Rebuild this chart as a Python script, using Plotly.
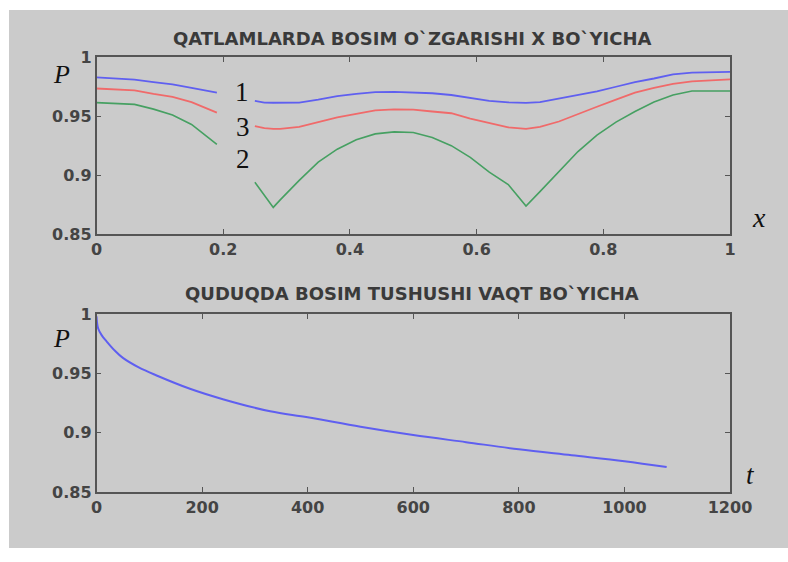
import plotly.graph_objects as go

W, H = 788, 562

# ---------- data: top chart (pressure along x) ----------
x_top = [0, 0.03, 0.06, 0.09, 0.12, 0.15, 0.19, 0.22, 0.25, 0.265, 0.279, 0.29, 0.32, 0.35,
         0.38, 0.41, 0.44, 0.47, 0.50, 0.53, 0.56, 0.59, 0.62, 0.65, 0.678, 0.70, 0.73,
         0.76, 0.79, 0.82, 0.85, 0.88, 0.91, 0.94, 0.97, 1.0]
p_curve1 = [0.983, 0.982, 0.981, 0.979, 0.977, 0.974, 0.970, None, 0.963, 0.9616, 0.9614,
            0.9614, 0.9616, 0.964, 0.967, 0.969, 0.9705, 0.9706, 0.9703, 0.9695, 0.968,
            0.9655, 0.963, 0.9618, 0.9613, 0.962, 0.965, 0.968, 0.971, 0.975, 0.979,
            0.982, 0.9855, 0.987, 0.9876, 0.9877]
p_curve3 = [0.9735, 0.973, 0.972, 0.969, 0.9664, 0.962, 0.953, None, 0.9415, 0.9398, 0.9393,
            0.9393, 0.941, 0.945, 0.949, 0.952, 0.955, 0.9558, 0.9556, 0.954, 0.9525,
            0.948, 0.944, 0.9405, 0.9393, 0.941, 0.9455, 0.952, 0.958, 0.964, 0.970,
            0.974, 0.9775, 0.9795, 0.9807, 0.9813]
p_curve2 = [0.9615, 0.961, 0.960, 0.956, 0.951, 0.943, 0.926, None, 0.894, 0.883, 0.8726,
            0.879, 0.8955, 0.911, 0.922, 0.930, 0.935, 0.9367, 0.9362, 0.932, 0.925,
            0.915, 0.9025, 0.892, 0.8737, 0.886, 0.903, 0.920, 0.934, 0.945, 0.954,
            0.962, 0.968, 0.9714, 0.9714, 0.9714]

# ---------- data: bottom chart (pressure over time) ----------
t_vals = [0, 3, 10, 19, 35, 50, 80, 115, 177, 241, 329, 400, 500, 600, 700, 800, 900, 1000, 1080]
p_time = [0.998, 0.988, 0.982, 0.977, 0.969, 0.963, 0.955, 0.948, 0.937, 0.928, 0.918,
          0.913, 0.905, 0.898, 0.892, 0.886, 0.881, 0.876, 0.871]

top_xticks = [0, 0.2, 0.4, 0.6, 0.8, 1]
top_xlabels = ["0", "0.2", "0.4", "0.6", "0.8", "1"]
yticks = [0.85, 0.9, 0.95, 1]
ylabels = ["0.85", "0.9", "0.95", "1"]
bot_xticks = [0, 200, 400, 600, 800, 1000, 1200]
bot_xlabels = ["0", "200", "400", "600", "800", "1000", "1200"]

title_top = "QATLAMLARDA BOSIM O`ZGARISHI X BO`YICHA"
title_bot = "QUDUQDA BOSIM TUSHUSHI VAQT BO`YICHA"

BLUE = "#5f5ff0"
RED = "#f06a6a"
GREEN = "#46a062"

fig = go.Figure()
fig.add_trace(go.Scatter(x=x_top, y=p_curve1, mode="lines", line=dict(color=BLUE, width=1.8),
                         connectgaps=False, xaxis="x", yaxis="y"))
fig.add_trace(go.Scatter(x=x_top, y=p_curve3, mode="lines", line=dict(color=RED, width=1.8),
                         connectgaps=False, xaxis="x", yaxis="y"))
fig.add_trace(go.Scatter(x=x_top, y=p_curve2, mode="lines", line=dict(color=GREEN, width=1.6),
                         connectgaps=False, xaxis="x", yaxis="y"))
fig.add_trace(go.Scatter(x=t_vals, y=p_time, mode="lines", line=dict(color=BLUE, width=2),
                         line_shape="spline", xaxis="x2", yaxis="y2"))


def px(x):
    return x / W


def py(y):
    return 1 - y / H


tickfont = dict(family="DejaVu Sans", size=16, color="#444444", weight="bold")
axis_common = dict(showline=True, linecolor="#555555", linewidth=1.5, mirror="ticks",
                   ticks="inside", ticklen=5, tickwidth=1, tickcolor="#555555",
                   showgrid=False, zeroline=False, tickfont=tickfont, fixedrange=True,
                   automargin=False)

x_dom = [px(96.5), px(730)]
fig.update_layout(
    width=W, height=H,
    margin=dict(l=0, r=0, t=0, b=0, pad=0, autoexpand=False),
    paper_bgcolor="white",
    plot_bgcolor="white",
    showlegend=False,
    xaxis=dict(domain=x_dom, range=[0, 1], tickvals=top_xticks, ticktext=top_xlabels,
               anchor="y", **axis_common),
    yaxis=dict(domain=[py(234), py(57.3)], range=[0.85, 1], tickvals=yticks, ticktext=ylabels,
               anchor="x", **axis_common),
    xaxis2=dict(domain=x_dom, range=[0, 1200], tickvals=bot_xticks, ticktext=bot_xlabels,
                anchor="y2", **axis_common),
    yaxis2=dict(domain=[py(492), py(314)], range=[0.85, 1], tickvals=yticks, ticktext=ylabels,
                anchor="x2", **axis_common),
    shapes=[dict(type="rect", xref="paper", yref="paper", x0=px(9), x1=1, y0=py(548), y1=py(10),
                 fillcolor="#cbcbcb", line=dict(width=0), layer="below")],
)

titlefont = dict(family="DejaVu Sans", size=18, color="#3a3a3a", weight="bold")
serif_it = dict(family="Liberation Serif", size=26, color="#111111", style="italic")
serif = dict(family="Liberation Serif", size=27, color="#111111")

annotations = [
    dict(text=title_top, x=px(412), y=py(39), font=titlefont),
    dict(text=title_bot, x=px(412), y=py(293), font=titlefont),
    dict(text="P", x=px(61), y=py(75), font=serif_it),
    dict(text="P", x=px(61), y=py(338), font=serif_it),
    dict(text="x", x=px(759), y=py(218), font=dict(serif_it, size=28)),
    dict(text="t", x=px(750), y=py(475), font=dict(serif_it, size=27)),
    dict(text="1", x=px(242), y=py(92), font=serif),
    dict(text="3", x=px(243), y=py(127), font=serif),
    dict(text="2", x=px(243), y=py(159), font=serif),
]
for a in annotations:
    a.update(xref="paper", yref="paper", showarrow=False, xanchor="center", yanchor="middle")
    fig.add_annotation(**a)

fig.write_html("out.html",
               post_script="document.body.style.margin='0';document.body.style.padding='0';"
                           "document.body.style.overflow='hidden';")
